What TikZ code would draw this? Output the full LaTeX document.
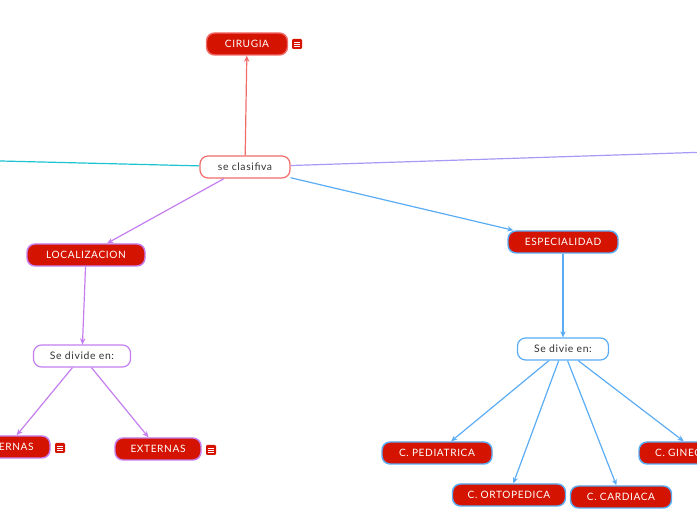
\documentclass[tikz,border=0pt]{standalone}
\usepackage{fontspec}
\setmainfont{Lato}
\newfontfamily\mapfont[LetterSpace=6]{Lato}
\usetikzlibrary{arrows.meta}
\definecolor{topicred}{RGB}{212,20,0}
\definecolor{linered}{RGB}{242,107,107}
\definecolor{linepurple}{RGB}{197,126,240}
\definecolor{lineblue}{RGB}{90,172,245}
\definecolor{lineteal}{RGB}{28,195,208}
\definecolor{linelav}{RGB}{165,154,245}
\definecolor{textgray}{RGB}{51,51,51}
\tikzset{
    topic/.style={draw, line width=1.1pt, fill=topicred, text=white, rounded corners=6pt,
        minimum height=16.5pt, inner xsep=2pt, font=\mapfont\fontsize{7.6}{8}\selectfont},
    subtopic/.style={draw, line width=0.9pt, fill=white, text=textgray, rounded corners=6pt,
        minimum height=16.5pt, inner xsep=2pt, font=\mapfont\fontsize{7.8}{8}\selectfont},
    noteicon/.style={fill=topicred, rounded corners=0.8pt, minimum size=7.5pt, inner sep=0pt,
        path picture={
            \foreach \dy in {-1.6pt,0pt,1.6pt}
                \draw[white, line width=0.5pt] ([xshift=-2.2pt,yshift=\dy]path picture bounding box.center) -- ++(4.4pt,0);
        }},
    link/.style={line width=0.9pt, -{Stealth[length=4.5pt,width=4pt]}}
}
\begin{document}
\begin{tikzpicture}[x=0.75pt, y=-0.75pt]
    \useasboundingbox (0,0) rectangle (697,520);
    \clip (0,0) rectangle (697,520);
    % centre
    \node[subtopic, draw=linered, minimum width=67.5pt] (clasif) at (245,167) {se clasifiva};
    \node[topic, draw=linered, minimum width=60.75pt] (cirugia) at (247,44) {CIRUGIA};
    \node[noteicon] (cirugianote) at (297,44) {};
    \coordinate (leftend) at (-40,160);
    \coordinate (rightend) at (740,151);
    \draw[lineteal, line width=0.9pt] (clasif) -- (leftend);
    \draw[linelav, line width=0.9pt] (clasif) -- (rightend);
    \draw[link, linered] (clasif) -- (cirugia);
    % localizacion
    \node[topic, draw=linepurple, minimum width=88.5pt] (local) at (86,255) {LOCALIZACION};
    \node[subtopic, draw=linepurple, minimum width=72.75pt] (divide) at (82,356) {Se divide en:};
    \node[topic, draw=linepurple, minimum width=64.5pt] (internas) at (7,447) {INTERNAS};
    \node[noteicon] (internasnote) at (60,448) {};
    \node[topic, draw=linepurple, minimum width=64.5pt] (externas) at (158,449) {EXTERNAS};
    \node[noteicon] (externasnote) at (211,450) {};
    \draw[link, linepurple] (clasif) -- (local);
    \draw[link, linepurple] (local) -- (divide);
    \draw[link, linepurple] (divide) -- (internas);
    \draw[link, linepurple] (divide) -- (externas);
    % especialidad
    \node[topic, draw=lineblue, minimum width=82.5pt] (espec) at (563,242) {ESPECIALIDAD};
    \node[subtopic, draw=lineblue, minimum width=68.25pt] (divie) at (563,349) {Se divie en:};
    \node[topic, draw=lineblue, minimum width=82.5pt] (pediat) at (437,453) {C. PEDIATRICA};
    \node[topic, draw=lineblue, minimum width=84.75pt] (ortop) at (509,495) {C. ORTOPEDICA};
    \node[topic, draw=lineblue, minimum width=75.75pt] (cardiaca) at (621,497) {C. CARDIACA};
    \node[topic, draw=lineblue, minimum width=90pt] (ginec) at (699,453) {C. GINECOLOGIA};
    \draw[link, lineblue] (clasif) -- (espec);
    \draw[link, lineblue] (espec) -- (divie);
    \foreach \n in {pediat, ortop, cardiaca, ginec}
        \draw[link, lineblue] (divie) -- (\n);
\end{tikzpicture}
\end{document}
